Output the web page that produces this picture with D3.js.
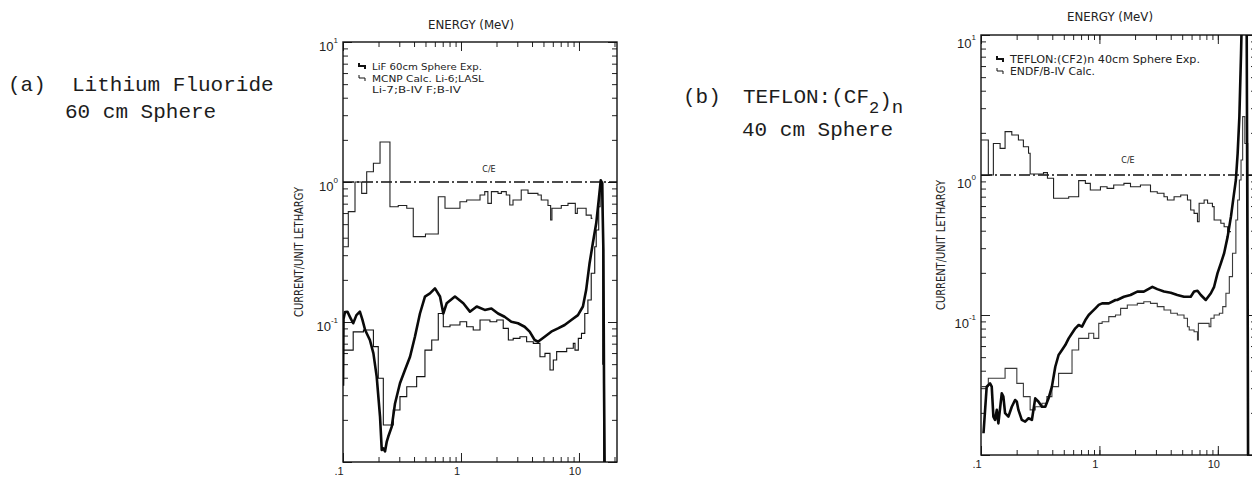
<!DOCTYPE html>
<html>
<head>
<meta charset="utf-8">
<script src="https://d3js.org/d3.v7.min.js"></script>
<style>
body{margin:0;background:#fff;}
svg{display:block;}
.note{font-family:"Liberation Mono","DejaVu Sans Mono",monospace;font-size:21px;fill:#1c1c1c;}
.lab{font-family:"DejaVu Sans","Liberation Sans",sans-serif;fill:#222;}
.tick{font-family:"Liberation Sans","DejaVu Sans",sans-serif;fill:#222;}
</style>
</head>
<body>
<svg id="chart"></svg>
<script>
// values: [energy MeV, current per unit lethargy]
var lifExp = [[0.100,0.035],[0.101,0.105],[0.104,0.118],[0.109,0.1185],[0.115,0.108],[0.122,0.098],
  [0.13,0.112],[0.139,0.1185],[0.146,0.104],[0.154,0.0877],[0.169,0.0744],[0.181,0.0597],[0.193,0.0407],
  [0.206,0.0211],[0.213,0.0122],[0.22,0.0125],[0.227,0.0119],[0.235,0.014],[0.242,0.0152],[0.259,0.0179],
  [0.276,0.0262],[0.304,0.0365],[0.335,0.0454],[0.370,0.0565],[0.407,0.0785],[0.449,0.115],[0.495,0.152],
  [0.546,0.160],[0.602,0.174],[0.664,0.152],[0.708,0.115],[0.756,0.136],[0.889,0.152],[1.046,0.136],
  [1.19,0.1185],[1.36,0.129],[1.59,0.122],[1.81,0.125],[2.06,0.115],[2.34,0.109],[2.67,0.1005],[3.04,0.098],
  [3.46,0.0925],[3.82,0.0853],[4.21,0.0744],[4.49,0.0723],[5.12,0.0785],[5.82,0.0853],[6.64,0.090],
  [7.56,0.0952],[8.61,0.1033],[9.80,0.112],[10.8,0.129],[11.5,0.169],[12.3,0.263],[13.1,0.365],[14.0,0.507],
  [14.7,0.744],[15.3,1.03],[15.7,0.978],[16.1,0.327],[16.3,0.0365],[16.5,0.009]];

var lifCalc = [[0.1006,0.063],[0.122,0.085],[0.149,0.0877],[0.181,0.0667],[0.199,0.0396],[0.2196,0.0184],
  [0.267,0.0235],[0.304,0.0293],[0.347,0.0345],[0.421,0.0407],[0.495,0.063],[0.565,0.0744],[0.642,0.115],
  [0.708,0.0925],[0.807,0.0952],[0.980,0.1005],[1.117,0.0925],[1.27,0.0877],[1.45,0.1033],[1.76,0.1005],
  [2.01,0.1033],[2.28,0.090],[2.52,0.0744],[2.77,0.0764],[3.16,0.0785],[3.60,0.0723],[4.10,0.0704],
  [4.67,0.0565],[5.15,0.0597],[5.68,0.0454],[6.06,0.0535],[6.47,0.0614],[7.87,0.0649],[8.95,0.0704],
  [9.25,0.063],[9.87,0.0764],[10.5,0.083],[11.2,0.115],[11.9,0.1435],[12.7,0.223],[13.6,0.345],[14.0,0.454],
  [14.7,0.666],[15.1,0.877],[15.5,1.0],[15.9,0.05],[16.2,0.009]];

var lifRatio = [[0.1006,0.345],[0.1109,0.614],[0.1264,1.0],[0.144,0.83],[0.1588,1.185],[0.181,1.36],
  [0.206,1.93],[0.250,0.666],[0.294,0.68],[0.347,0.649],[0.394,0.407],[0.5,0.425],[0.642,0.785],
  [0.732,0.649],[0.980,0.723],[1.117,0.744],[1.45,0.808],[1.59,0.853],[1.69,0.704],[1.81,0.853],
  [2.06,0.83],[2.20,0.853],[2.42,0.808],[2.59,0.685],[2.76,0.744],[3.24,0.877],[3.70,0.83],[4.49,0.808],
  [4.79,0.744],[5.46,0.68],[5.75,0.535],[5.90,0.649],[7.08,0.68],[8.07,0.704],[9.31,0.597],[9.68,0.649],
  [11.5,0.58],[12.7,0.55],[13.0,0.55]];

var teflonExp = [[0.105,0.0143],[0.1117,0.0308],[0.1192,0.0325],[0.1232,0.0308],[0.1272,0.0188],
  [0.1314,0.0178],[0.1359,0.021],[0.1402,0.0168],[0.1497,0.0276],[0.1545,0.0261],[0.1597,0.0199],
  [0.1704,0.0188],[0.182,0.0221],[0.194,0.0247],[0.2007,0.024],[0.207,0.021],[0.221,0.0178],[0.236,0.0173],
  [0.252,0.0183],[0.269,0.0178],[0.287,0.0254],[0.306,0.024],[0.327,0.0221],[0.349,0.0221],[0.372,0.0254],
  [0.397,0.0308],[0.424,0.0427],[0.452,0.0518],[0.483,0.0562],[0.515,0.061],[0.550,0.0681],[0.587,0.074],
  [0.626,0.0803],[0.668,0.0848],[0.713,0.0825],[0.761,0.092],[0.812,0.1],[0.867,0.1056],[0.925,0.1116],
  [0.987,0.118],[1.054,0.121],[1.2,0.121],[1.367,0.128],[1.41,0.128],[1.61,0.135],[1.83,0.139],[2.09,0.147],
  [2.37,0.147],[2.80,0.159],[3.08,0.153],[3.51,0.147],[4.00,0.144],[4.55,0.139],[5.18,0.135],[5.90,0.135],
  [6.30,0.147],[6.73,0.149],[7.18,0.139],[7.91,0.128],[8.73,0.143],[9.30,0.159],[9.94,0.199],[10.6,0.234],
  [11.3,0.276],[12.1,0.363],[12.9,0.504],[13.7,0.740],[14.2,0.921],[14.7,1.43],[15.2,2.61],[15.7,7.40],
  [16.0,15],[17.5,15],[17.9,0.066],[18.0,0.009]];

var teflonCalc = [[0.1,0.0308],[0.1153,0.0353],[0.1597,0.0416],[0.2007,0.0325],[0.228,0.0261],[0.260,0.021],
  [0.287,0.0221],[0.327,0.0234],[0.360,0.0261],[0.397,0.0308],[0.452,0.0383],[0.587,0.0562],[0.668,0.0681],
  [0.812,0.074],[0.895,0.0681],[0.987,0.0872],[1.054,0.0895],[1.2,0.0973],[1.367,0.1],[1.51,0.1116],
  [1.72,0.118],[2.09,0.121],[2.37,0.1245],[2.70,0.121],[3.08,0.1147],[3.51,0.1086],[4.00,0.1028],[4.55,0.1],
  [5.18,0.0947],[5.54,0.0825],[5.73,0.0781],[6.30,0.076],[6.73,0.0663],[6.85,0.0872],[7.66,0.0872],
  [8.44,0.0825],[8.73,0.0947],[9.30,0.1],[10.3,0.1028],[11.0,0.1147],[11.7,0.143],[12.5,0.188],[13.3,0.276],
  [14.2,0.477],[14.7,0.663],[15.2,0.921],[15.7,1.28],[16.2,2.61],[16.9,1.68],[17.9,0.009]];

var teflonRatio = [[0.1,1.78],[0.1153,1.0],[0.1272,1.68],[0.145,1.55],[0.1597,2.04],[0.182,1.93],
  [0.207,1.78],[0.228,1.59],[0.252,1.43],[0.260,1.016],[0.337,1.04],[0.364,0.947],[0.410,0.682],[0.55,0.70],
  [0.668,0.911],[0.761,0.872],[0.838,0.781],[1.02,0.825],[1.16,0.803],[1.32,0.848],[1.61,0.872],[1.83,0.825],
  [2.22,0.848],[2.70,0.76],[3.08,0.74],[3.51,0.70],[3.75,0.663],[4.27,0.70],[4.86,0.72],[5.54,0.663],
  [5.90,0.562],[6.30,0.532],[6.73,0.464],[6.95,0.628],[7.66,0.663],[8.19,0.628],[9.0,0.594],[9.30,0.477],
  [10.6,0.452],[11.3,0.427],[12.1,0.394],[12.9,0.394]];

var energyDomain = [0.1, 21];
var currentDomain = [0.01, 10];
var xTickLabels = [[0.1,".1"],[1,"1"],[10,"10"]];
var yTickLabels = [[10,"1"],[1,"0"],[0.1,"-1"]];
var lifLegend = ["LiF 60cm Sphere Exp.", "MCNP Calc. Li-6;LASL", "Li-7;B-IV F;B-IV"];
var teflonLegend = ["TEFLON:(CF2)n 40cm Sphere Exp.", "ENDF/B-IV Calc."];

var screen = {width:1252, height:477};

var panels = [
  {id:"a", left:343, top:42, width:274, height:420, exp:lifExp, calc:lifCalc, ratio:lifRatio,
   calcColor:"#111", titleX:471, titleY:29, yLabelX:303, yTickDy:9,
   legend:lifLegend, legendX:372, legendY:[70,82,93], legendLen:[110,112,89], legendSize:9,
   ceX:489, ceY:172},
  {id:"b", left:981, top:35, width:275, height:420, exp:teflonExp, calc:teflonCalc, ratio:teflonRatio,
   calcColor:"#3a3a3a", titleX:1110, titleY:21, yLabelX:945, yTickDy:13,
   legend:teflonLegend, legendX:1010, legendY:[63,75], legendLen:[190,85], legendSize:10,
   ceX:1128, ceY:163}
];

var svg = d3.select("#chart")
    .attr("width",screen.width)
    .attr("height",screen.height);

svg.append("rect").attr("width",screen.width).attr("height",screen.height).attr("fill","#fff");

var createNotes = function(svg)
{
    svg.append("text").classed("note",true).attr("x",8).attr("y",91).text("(a)");
    svg.append("text").classed("note",true).attr("x",72).attr("y",91).text("Lithium Fluoride");
    svg.append("text").classed("note",true).attr("x",65).attr("y",118).text("60 cm Sphere");

    svg.append("text").classed("note",true).attr("x",683).attr("y",103).text("(b)");
    var t = svg.append("text").classed("note",true).attr("x",743).attr("y",103);
    t.append("tspan").text("TEFLON:(CF");
    t.append("tspan").attr("dy",10).attr("font-size",17).text("2");
    t.append("tspan").attr("dy",-6).text(")");
    t.append("tspan").attr("dy",6).attr("font-size",19).text("n");
    svg.append("text").classed("note",true).attr("x",742).attr("y",136).text("40 cm Sphere");
}

var createAxes = function(g, p, xScale, yScale)
{
    var x0 = p.left, x1 = p.left+p.width, y0 = p.top, y1 = p.top+p.height;
    var xMinor = xScale.ticks(), yMinor = yScale.ticks();
    var xMajor = [0.1,1,10], yMajor = [0.01,0.1,1,10];

    var sides = [
        {axis:d3.axisBottom, scale:xScale, minor:xMinor, major:xMajor, t:"translate(0,"+y1+")"},
        {axis:d3.axisTop, scale:xScale, minor:xMinor, major:xMajor, t:"translate(0,"+y0+")"},
        {axis:d3.axisLeft, scale:yScale, minor:yMinor, major:yMajor, t:"translate("+x0+",0)"},
        {axis:d3.axisRight, scale:yScale, minor:yMinor, major:yMajor, t:"translate("+x1+",0)"}
    ];
    sides.forEach(function(s)
    {
        [[s.minor,-5],[s.major,-9]].forEach(function(set)
        {
            var a = g.append("g")
                .attr("transform",s.t)
                .call(s.axis(s.scale).tickValues(set[0]).tickSize(set[1]).tickFormat(""));
            a.select(".domain").remove();
            a.selectAll("line").attr("stroke","#222").attr("stroke-width",1);
        });
    });

    g.append("rect")
        .attr("x",x0).attr("y",y0)
        .attr("width",p.width).attr("height",p.height)
        .attr("fill","none").attr("stroke","#111").attr("stroke-width",1.4);

    xTickLabels.forEach(function(d)
    {
        g.append("text").classed("tick",true)
            .attr("x",xScale(d[0])-4).attr("y",y1+13)
            .attr("text-anchor","middle").attr("font-size",11)
            .text(d[1]);
    });
    yTickLabels.forEach(function(d)
    {
        var t = g.append("text").classed("tick",true)
            .attr("x",x0-5).attr("y",yScale(d[0])+p.yTickDy)
            .attr("text-anchor","end").attr("font-size",13);
        t.append("tspan").text("10");
        t.append("tspan").attr("dy",-8).attr("font-size",8).text(d[1]);
    });
}

var createLabels = function(g, p)
{
    g.append("text").classed("lab",true)
        .attr("x",p.titleX).attr("y",p.titleY)
        .attr("text-anchor","middle").attr("font-size",12)
        .attr("textLength",86).attr("lengthAdjust","spacingAndGlyphs")
        .text("ENERGY (MeV)");

    g.append("g")
        .attr("transform","translate("+p.yLabelX+","+(p.top+p.height/2)+")")
        .append("text").classed("lab",true)
        .attr("transform","rotate(-90)")
        .attr("text-anchor","middle").attr("font-size",12)
        .attr("textLength",130).attr("lengthAdjust","spacingAndGlyphs")
        .text("CURRENT/UNIT LETHARGY");

    g.append("text").classed("lab",true)
        .attr("x",p.ceX).attr("y",p.ceY)
        .attr("text-anchor","middle").attr("font-size",8)
        .text("C/E");

    // legend: little step symbols, thick for experiment, thin for calculation
    p.legend.forEach(function(txt,i)
    {
        g.append("text").classed("lab",true)
            .attr("x",p.legendX).attr("y",p.legendY[i])
            .attr("font-size",p.legendSize)
            .attr("textLength",p.legendLen[i]).attr("lengthAdjust","spacingAndGlyphs")
            .text(txt);
        if(i < 2)
        {
            var sx = p.legendX-13, sy = p.legendY[i]-4;
            g.append("path")
                .attr("d","M"+sx+","+(sy-3)+"V"+sy+"H"+(sx+6)+"V"+(sy+3))
                .attr("fill","none").attr("stroke","#111")
                .attr("stroke-width", i==0 ? 2 : 1);
        }
    });
}

var drawPanel = function(svg, p)
{
    var xScale = d3.scaleLog().domain(energyDomain).range([p.left, p.left+p.width]);
    var yScale = d3.scaleLog().domain(currentDomain).range([p.top+p.height, p.top]);

    var g = svg.append("g").classed("panel-"+p.id,true);

    svg.append("clipPath").attr("id","clip-"+p.id)
        .append("rect")
        .attr("x",p.left).attr("y",p.top)
        .attr("width",p.width).attr("height",p.height);

    createAxes(g, p, xScale, yScale);
    createLabels(g, p);

    var plot = g.append("g").attr("clip-path","url(#clip-"+p.id+")");

    // C/E = 1 reference
    plot.append("line")
        .attr("x1",p.left).attr("x2",p.left+p.width)
        .attr("y1",yScale(1)).attr("y2",yScale(1))
        .attr("stroke","#111").attr("stroke-width",1.3)
        .attr("stroke-dasharray","11,3,2,3");

    var stepLine = d3.line()
        .x(function(d){return xScale(d[0])})
        .y(function(d){return yScale(d[1])})
        .curve(d3.curveStepAfter);
    var smoothLine = d3.line()
        .x(function(d){return xScale(d[0])})
        .y(function(d){return yScale(d[1])});

    plot.append("path").datum(p.ratio)
        .attr("d",stepLine)
        .attr("fill","none").attr("stroke","#222").attr("stroke-width",1.1);

    plot.append("path").datum(p.calc)
        .attr("d",stepLine)
        .attr("fill","none").attr("stroke",p.calcColor).attr("stroke-width",1.1);

    plot.append("path").datum(p.exp)
        .attr("d",smoothLine)
        .attr("fill","none").attr("stroke","#0a0a0a")
        .attr("stroke-width",2.6).attr("stroke-linejoin","round");
}

createNotes(svg);
panels.forEach(function(p){ drawPanel(svg, p); });
</script>
</body>
</html>
